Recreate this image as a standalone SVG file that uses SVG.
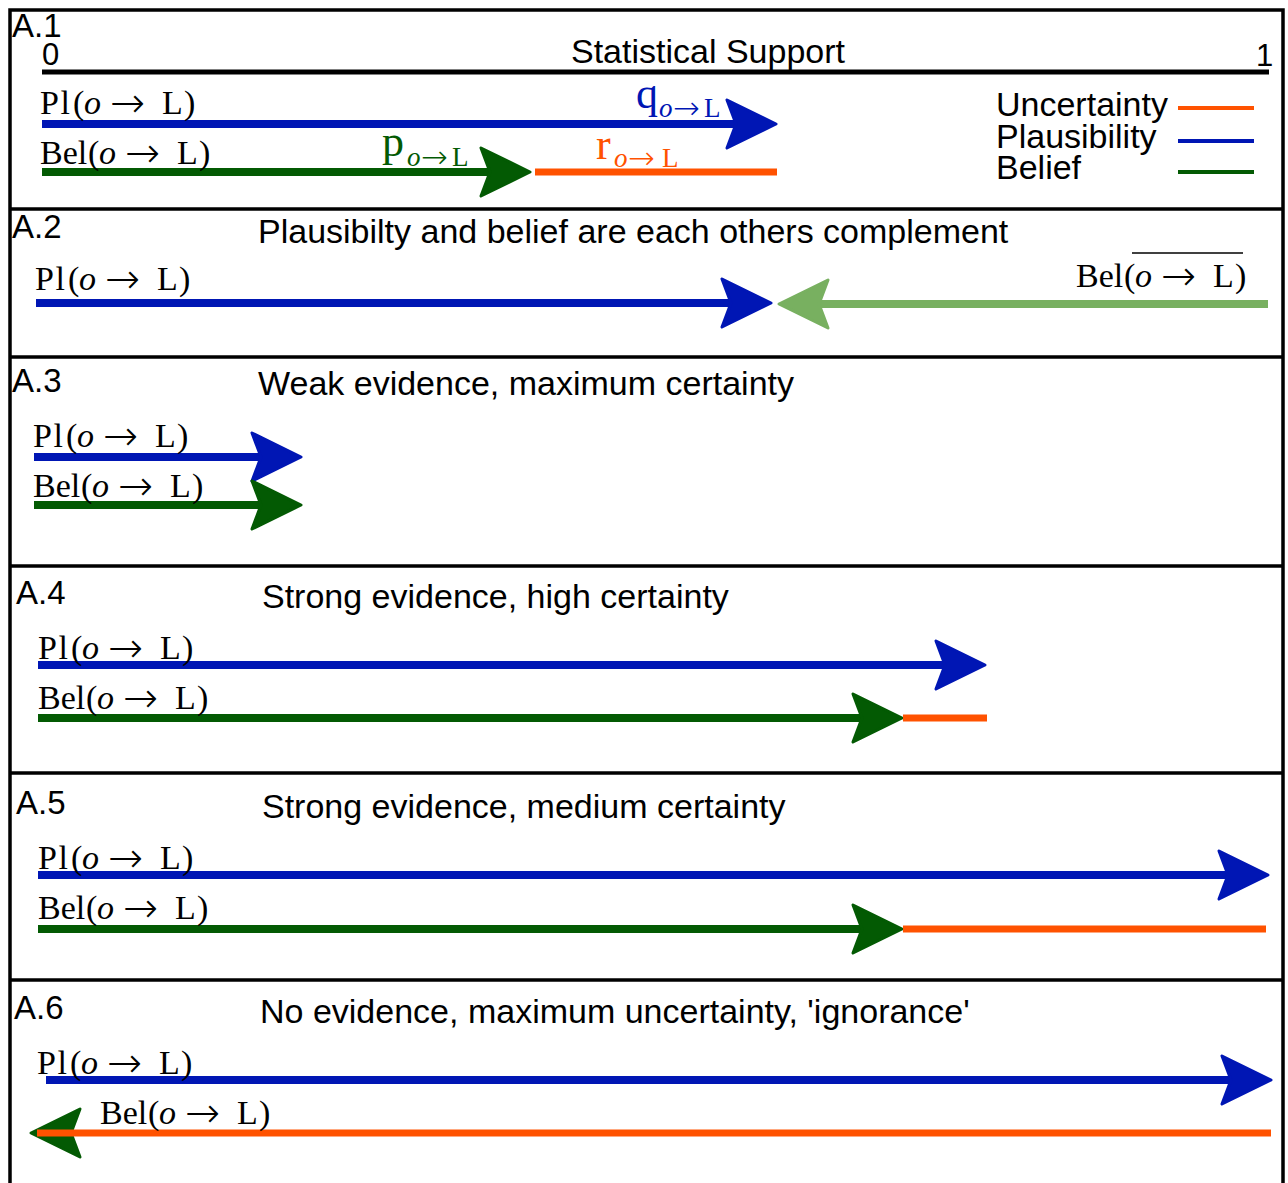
<svg xmlns="http://www.w3.org/2000/svg" width="1288" height="1183" viewBox="0 0 1288 1183">
<style>
.frame{fill:none;stroke:#000;stroke-width:3.5}
.sans{font-family:"Liberation Sans",Arial,sans-serif;fill:#000}
.ttl{font-size:34px}
.lab{font-size:33px}
.m{font-family:"Liberation Serif","DejaVu Serif",serif;font-size:34px;fill:#000}
.big{font-size:44px}
.sub{font-size:27px}
.it{font-style:italic}
.ar{font-family:"DejaVu Sans",sans-serif;font-size:42px;font-weight:200}
.sar{font-family:"DejaVu Sans",sans-serif;font-size:32px;font-weight:200}
.bl{stroke:#0016b4;stroke-width:8;fill:none}
.gr{stroke:#035a03;stroke-width:8;fill:none}
.lg{stroke:#78b060;stroke-width:8;fill:none}
.or{stroke:#ff5200;stroke-width:7;fill:none}
.hb{marker-end:url(#hb)}
.hg{marker-end:url(#hg)}
.hl{marker-end:url(#hl)}
</style>
<defs>
<path id="head" d="M0,-24 L49,0 L0,24 L9,0 Z" stroke-linejoin="round" stroke-width="3"/>
<marker id="hb" markerUnits="userSpaceOnUse" markerWidth="60" markerHeight="60" viewBox="-3 -30 56 60" refX="10" refY="0" orient="auto" overflow="visible"><use href="#head" fill="#0016b4" stroke="#0016b4"/></marker>
<marker id="hg" markerUnits="userSpaceOnUse" markerWidth="60" markerHeight="60" viewBox="-3 -30 56 60" refX="10" refY="0" orient="auto" overflow="visible"><use href="#head" fill="#035a03" stroke="#035a03"/></marker>
<marker id="hl" markerUnits="userSpaceOnUse" markerWidth="60" markerHeight="60" viewBox="-3 -30 56 60" refX="10" refY="0" orient="auto" overflow="visible"><use href="#head" fill="#78b060" stroke="#78b060"/></marker>
<text id="pl" class="m"><tspan x="0" letter-spacing="1.5">Pl</tspan><tspan x="33">(</tspan><tspan x="44" class="it">o</tspan><tspan x="70" dy="3" class="ar">→</tspan><tspan x="122" dy="-3">L</tspan><tspan x="144">)</tspan></text>
<text id="bel" class="m"><tspan x="0">Bel</tspan><tspan x="48">(</tspan><tspan x="59" class="it">o</tspan><tspan x="85" dy="3" class="ar">→</tspan><tspan x="137" dy="-3">L</tspan><tspan x="159">)</tspan></text>
</defs>

<g id="frame">
<path class="frame" d="M10,1183 V10 H1283 V1183"/>
<line class="frame" x1="10" y1="209" x2="1283" y2="209"/>
<line class="frame" x1="10" y1="357" x2="1283" y2="357"/>
<line class="frame" x1="10" y1="566" x2="1283" y2="566"/>
<line class="frame" x1="10" y1="773" x2="1283" y2="773"/>
<line class="frame" x1="10" y1="980" x2="1283" y2="980"/>
</g>

<g id="connectors">
<!-- A.1 -->
<line x1="42" y1="72" x2="1269" y2="72" stroke="#000" stroke-width="5"/>
<line class="bl hb" x1="42" y1="124" x2="737" y2="124"/>
<line class="gr hg" x1="42" y1="172" x2="491" y2="172"/>
<line class="or" x1="535" y1="172" x2="777" y2="172"/>
<line x1="1178" y1="108" x2="1254" y2="108" stroke="#ff5200" stroke-width="4"/>
<line x1="1178" y1="141" x2="1254" y2="141" stroke="#0016b4" stroke-width="4"/>
<line x1="1178" y1="172" x2="1254" y2="172" stroke="#035a03" stroke-width="4"/>
<!-- A.2 -->
<line class="bl hb" x1="36" y1="303" x2="732" y2="303"/>
<line class="lg hl" x1="1268" y1="304" x2="818" y2="304"/>
<!-- A.3 -->
<line class="bl hb" x1="34" y1="457" x2="262" y2="457"/>
<line class="gr hg" x1="34" y1="505" x2="262" y2="505"/>
<!-- A.4 -->
<line class="bl hb" x1="38" y1="665" x2="946" y2="665"/>
<line class="gr hg" x1="38" y1="718" x2="863" y2="718"/>
<line class="or" x1="903" y1="718" x2="987" y2="718"/>
<!-- A.5 -->
<line class="bl hb" x1="38" y1="875" x2="1229" y2="875"/>
<line class="gr hg" x1="38" y1="929" x2="863" y2="929"/>
<line class="or" x1="903" y1="929" x2="1266" y2="929"/>
<!-- A.6 -->
<line class="bl hb" x1="46" y1="1080" x2="1232" y2="1080"/>
<line class="hg" x1="78" y1="1133" x2="70" y2="1133" stroke="#035a03" stroke-width="1"/>
<line class="or" x1="37" y1="1133" x2="1271" y2="1133"/>
</g>

<g id="A1">
<text class="sans lab" x="12" y="37">A.1</text>
<text class="sans" x="42" y="65" font-size="31">0</text>
<text class="sans" x="1256" y="66" font-size="31">1</text>
<text class="sans ttl" x="571" y="63">Statistical Support</text>
<use href="#pl" x="40" y="114"/>
<use href="#bel" x="40" y="164"/>
<text class="m" style="fill:#0016b4"><tspan class="big" x="636" y="108">q</tspan><tspan class="sub it" x="659" y="117">o</tspan><tspan class="sar" x="673" y="119">→</tspan><tspan class="sub" x="704" y="117">L</tspan></text>
<text class="m" style="fill:#035a03"><tspan class="big" x="382" y="156">p</tspan><tspan class="sub it" x="407" y="166">o</tspan><tspan class="sar" x="421" y="168">→</tspan><tspan class="sub" x="452" y="166">L</tspan></text>
<text class="m" style="fill:#ff5200"><tspan class="big" x="596" y="159">r</tspan><tspan class="sub it" x="614" y="167">o</tspan><tspan class="sar" x="628" y="169">→</tspan><tspan class="sub" x="662" y="167">L</tspan></text>
<text class="sans ttl" x="996" y="116">Uncertainty</text>
<text class="sans ttl" x="996" y="148">Plausibility</text>
<text class="sans ttl" x="996" y="179">Belief</text>
</g>

<g id="A2">
<text class="sans lab" x="12" y="238">A.2</text>
<text class="sans ttl" x="258" y="243">Plausibilty and belief are each others complement</text>
<use href="#pl" x="35" y="290"/>
<g transform="translate(1076,287)">
<use href="#bel"/>
<line x1="56" y1="-34" x2="167" y2="-34" stroke="#000" stroke-width="1.5"/>
</g>
</g>

<g id="A3">
<text class="sans lab" x="12" y="392">A.3</text>
<text class="sans ttl" x="258" y="395">Weak evidence, maximum certainty</text>
<use href="#pl" x="33" y="447"/>
<use href="#bel" x="33" y="497"/>
</g>

<g id="A4">
<text class="sans lab" x="16" y="604">A.4</text>
<text class="sans ttl" x="262" y="608">Strong evidence, high certainty</text>
<use href="#pl" x="38" y="659"/>
<use href="#bel" x="38" y="709"/>
</g>

<g id="A5">
<text class="sans lab" x="16" y="814">A.5</text>
<text class="sans ttl" x="262" y="818">Strong evidence, medium certainty</text>
<use href="#pl" x="38" y="869"/>
<use href="#bel" x="38" y="919"/>
</g>

<g id="A6">
<text class="sans lab" x="14" y="1019">A.6</text>
<text class="sans ttl" x="260" y="1023">No evidence, maximum uncertainty, 'ignorance'</text>
<use href="#pl" x="37" y="1074"/>
<use href="#bel" x="100" y="1124"/>
</g>
</svg>
